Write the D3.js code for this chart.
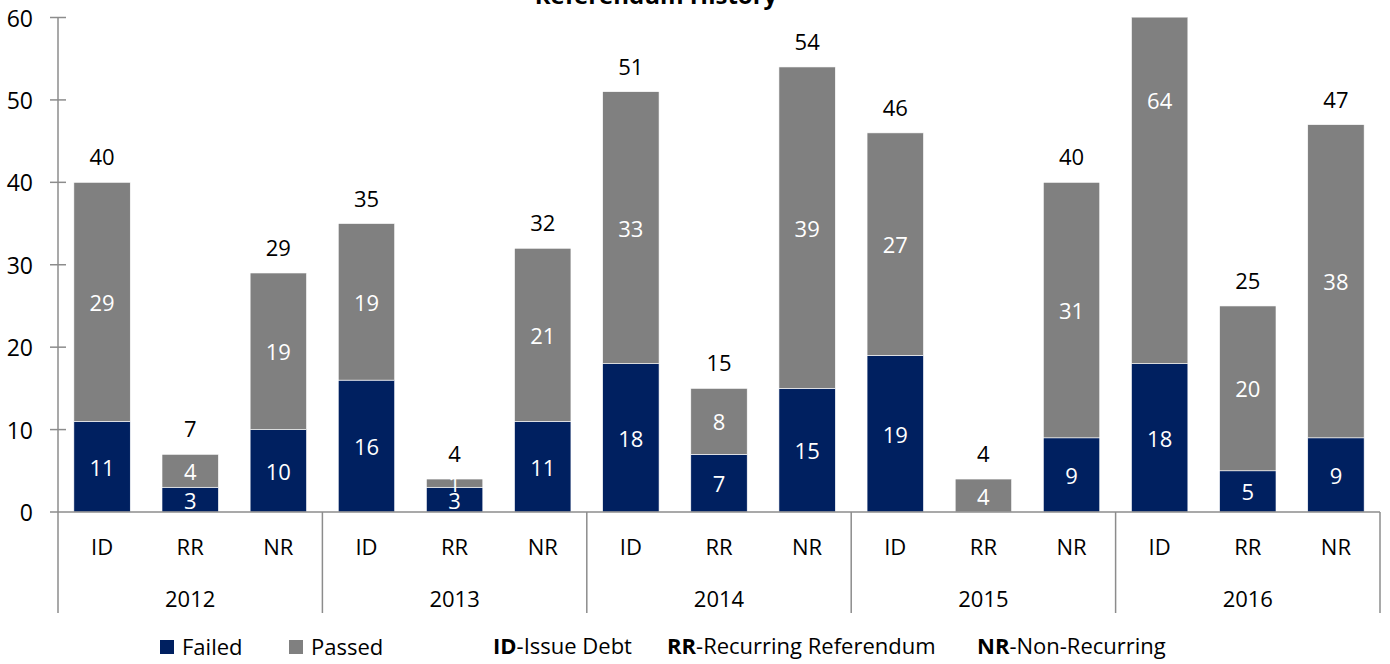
<!DOCTYPE html>
<html><head><meta charset="utf-8">
<script src="https://cdn.jsdelivr.net/npm/d3@7"></script>
<style>
body{margin:0;background:#fff;}
svg{display:block;font-family:"Open Sans",sans-serif;}
</style></head>
<body><svg id="c" width="1390" height="664"></svg>
<script>
const years = ["2012","2013","2014","2015","2016"];
const types = ["ID","RR","NR"];
const failed = [11,3,10, 16,3,11, 18,7,15, 19,0,9, 18,5,9];
const passed = [29,4,19, 19,1,21, 33,8,39, 27,4,31, 64,20,38];
const yTicks = [0,10,20,30,40,50,60];
const seriesNames = ["Failed","Passed"];
const colors = ["#002060","#808080"];

const FS = 22;
const svg = d3.select("#c");
const m = {left:58, right:1380, top:17.5, bottom:512};
const cats = [];
years.forEach(y => types.forEach(t => cats.push(y+"|"+t)));
const rows = cats.map((c,i)=>({key:c, year:c.split("|")[0], type:c.split("|")[1], failed:failed[i], passed:passed[i]}));

const x = d3.scaleBand().domain(cats).range([m.left,m.right]).paddingInner(0.36).paddingOuter(0.18);
const xg = d3.scaleBand().domain(years).range([m.left,m.right]);
const y = d3.scaleLinear().domain([0,60]).range([m.bottom,m.top]);

const stack = d3.stack().keys(["failed","passed"])(rows);

svg.append("defs").append("clipPath").attr("id","pc").append("rect")
  .attr("x",m.left).attr("y",m.top).attr("width",m.right-m.left).attr("height",m.bottom-m.top);

const gBars = svg.append("g").attr("clip-path","url(#pc)");
stack.forEach((s,si)=>{
  gBars.selectAll(null).data(s).join("rect")
    .attr("x",d=>x(d.data.key)).attr("width",x.bandwidth())
    .attr("y",d=>y(d[1])).attr("height",d=>Math.max(0,y(d[0])-y(d[1])))
    .attr("fill",colors[si]).attr("stroke","#fff").attr("stroke-width",0.6);
});

// axes
const axisColor = "#8c8c8c";
svg.append("line").attr("x1",m.left).attr("x2",m.left).attr("y1",y(60)).attr("y2",613)
  .attr("stroke",axisColor).attr("stroke-width",1.5);
svg.append("line").attr("x1",m.left).attr("x2",m.right).attr("y1",y(0)).attr("y2",y(0))
  .attr("stroke",axisColor).attr("stroke-width",1.5);
yTicks.forEach(t=>{
  svg.append("line").attr("x1",m.left-8).attr("x2",m.left+(t===0?0:8)).attr("y1",y(t)).attr("y2",y(t))
    .attr("stroke",axisColor).attr("stroke-width",1.5);
  svg.append("text").attr("x",33).attr("y",y(t)).attr("text-anchor","end").attr("dominant-baseline","central")
    .attr("font-size",FS+1).attr("fill","#000").text(t);
});
// group separators
years.forEach((yr,i)=>{
  const xe = xg(yr)+xg.bandwidth();
  svg.append("line").attr("x1",xe).attr("x2",xe).attr("y1",y(0)).attr("y2",613)
    .attr("stroke",axisColor).attr("stroke-width",1.5);
  svg.append("text").attr("x",xg(yr)+xg.bandwidth()/2).attr("y",598).attr("text-anchor","middle")
    .attr("dominant-baseline","central").attr("font-size",FS).text(yr);
});
rows.forEach(r=>{
  svg.append("text").attr("x",x(r.key)+x.bandwidth()/2).attr("y",546).attr("text-anchor","middle")
    .attr("dominant-baseline","central").attr("font-size",FS).text(r.type);
});

// segment labels
const gL = svg.append("g");
stack.forEach((s,si)=>{
  s.forEach(d=>{
    const v = d[1]-d[0];
    if(v<=0) return;
    gL.append("text").attr("x",x(d.data.key)+x.bandwidth()/2).attr("y",y((d[0]+d[1])/2))
      .attr("text-anchor","middle").attr("dominant-baseline","central").attr("font-size",FS)
      .attr("fill","#fff").text(v);
  });
});
// totals (only those inside the axis range are visible in the reference)
rows.forEach(r=>{
  const tot = r.failed+r.passed;
  if(tot > y.domain()[1]) return;
  gL.append("text").attr("x",x(r.key)+x.bandwidth()/2).attr("y",y(tot)-26)
    .attr("text-anchor","middle").attr("dominant-baseline","central").attr("font-size",FS)
    .attr("fill","#000").text(tot);
});

// title (cut off at top as in the reference)
svg.append("text").attr("x",656).attr("y",4).attr("text-anchor","middle")
  .attr("font-size",24).attr("font-weight","bold").text("Referendum History");

// legend
const legX = [160, 289];
seriesNames.forEach((n,i)=>{
  svg.append("rect").attr("x",legX[i]).attr("y",640).attr("width",14).attr("height",14).attr("fill",colors[i]);
  svg.append("text").attr("x",legX[i]+22).attr("y",646).attr("dominant-baseline","central")
    .attr("font-size",FS).text(n);
});
const abbr = [["ID","-Issue Debt",493],["RR","-Recurring Referendum",667],["NR","-Non-Recurring",977]];
abbr.forEach(a=>{
  const t = svg.append("text").attr("x",a[2]).attr("y",654).attr("font-size",FS);
  t.append("tspan").attr("font-weight","bold").text(a[0]);
  t.append("tspan").text(a[1]);
});
</script></body></html>
